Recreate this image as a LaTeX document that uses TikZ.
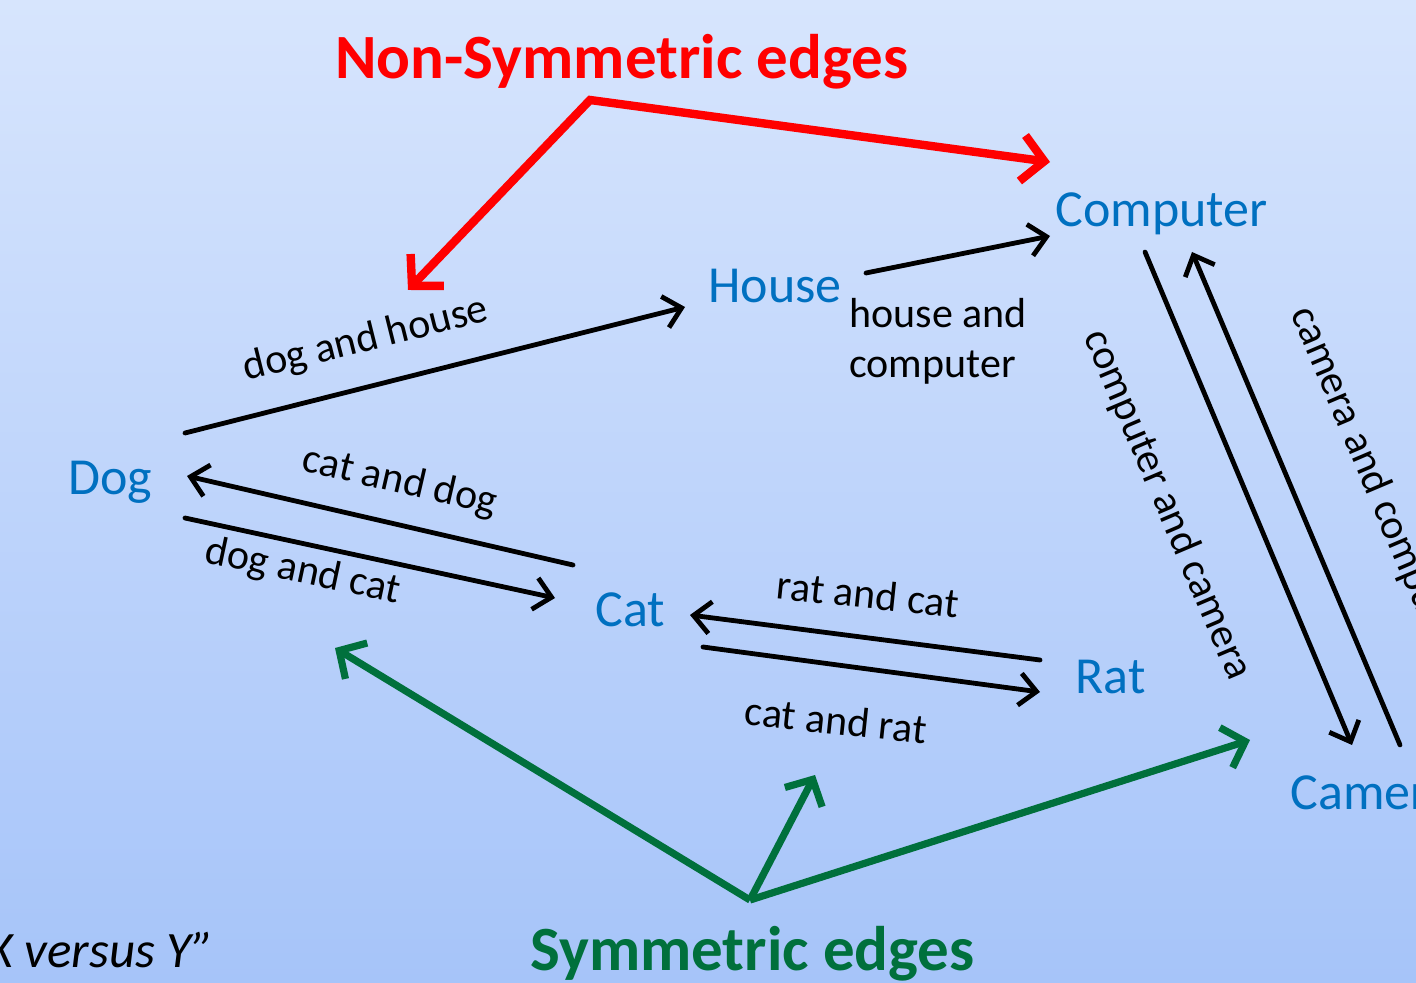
\documentclass[tikz,border=0pt]{standalone}
\usepackage{fontspec}
\setmainfont{Carlito}
\usetikzlibrary{arrows.meta,positioning}
\definecolor{slideblue}{HTML}{0070C0}
\definecolor{slidered}{HTML}{FF0000}
\definecolor{slidegreen}{HTML}{00703C}
\definecolor{bgtop}{HTML}{D7E5FD}
\definecolor{bgbot}{HTML}{A6C4F9}
\tikzset{
  % ord och kanter
  wn/.style={text=slideblue,inner sep=0pt,anchor=base west,
             font=\fontsize{26}{30}\selectfont},
  wl/.style={text=black,inner sep=0pt,font=\fontsize{21}{25}\selectfont},
  we/.style={-{Straight Barb[length=8.5pt,width=16pt]},draw=black,
             line width=2.4pt,line cap=round},
  % rubriker
  hd/.style={inner sep=0pt,anchor=base west,font=\fontsize{31.5}{36}\selectfont\bfseries},
  nsym/.style={{Straight Barb[length=11pt,width=23pt]}-{Straight Barb[length=11pt,width=23pt]},
               draw=slidered,line width=4.2pt},
  sym/.style={-{Straight Barb[length=10pt,width=21pt]},draw=slidegreen,line width=3.6pt},
}
\begin{document}
\begin{tikzpicture}[x=0.5pt,y=-0.5pt]
\useasboundingbox (0,0) rectangle (1416,983);
\clip (0,0) rectangle (1416,983);
\shade[top color=bgtop,bottom color=bgbot] (0,0) rectangle (1416,983);
  % ord
  \node[wn] (dog) at (68,494) {Dog};
  \node[wn] (house) at (708,303) {House};
  \node[wn] (computer) at (1055,227) {Computer};
  \node[wn] (cat) at (595,626) {Cat};
  \node[wn] (rat) at (1075,693) {Rat};
  \node[wn] (camera) at (1290,809) {Camera};
  \node[hd,text=slidered] (nsymhd) at (335,79) {Non-Symmetric edges};
  \node[hd,text=slidegreen] (symhd) at (530,970) {Symmetric edges};
  \node[inner sep=0pt,anchor=base east,font=\fontsize{25.5}{30}\selectfont\itshape]
    (xvy) at (214,967) {X versus Y”};
  % kantändar
  \coordinate (dh1) at (185,433);  \coordinate (dh2) at (685,307);
  \coordinate (hc1) at (866,273);  \coordinate (hc2) at (1050,236);
  \coordinate (cd1) at (573,565);  \coordinate (cd2) at (187,476);
  \coordinate (dc1) at (185,518);  \coordinate (dc2) at (555,598);
  \coordinate (rc1) at (1040,660); \coordinate (rc2) at (690,615);
  \coordinate (cr1) at (703,647);  \coordinate (cr2) at (1040,692);
  \coordinate (cm1) at (1145,252); \coordinate (cm2) at (1352,745);
  \coordinate (mc1) at (1400,745); \coordinate (mc2) at (1192,252);
  \draw[we] (dh1) -- (dh2);
  \draw[we] (hc1) -- (hc2);
  \draw[we] (cd1) -- (cd2);
  \draw[we] (dc1) -- (dc2);
  \draw[we] (rc1) -- (rc2);
  \draw[we] (cr1) -- (cr2);
  \draw[we] (cm1) -- (cm2);
  \draw[we] (mc1) -- (mc2);
  \node[wl,rotate=14] (ldh) at (366,340) {dog and house};
  \node[wl,anchor=north west,align=left] (lhc) at (849,298) {house and\\computer};
  \node[wl,rotate=-13] (lcd) at (400,482) {cat and dog};
  \node[wl,rotate=-12] (ldc) at (303,572) {dog and cat};
  \node[wl,rotate=-6] (lrc) at (868,594) {rat and cat};
  \node[wl,rotate=-6] (lcr) at (836,720) {cat and rat};
  \node[wl,rotate=-67] (lcm) at (1167,505) {computer and camera};
  \node[wl,rotate=-67] (lmc) at (1374,482) {camera and computer};
  % pilar
  \coordinate (nsym) at (590,100);
  \coordinate (nsymL) at (408,290);
  \coordinate (nsymR) at (1050,162);
  \draw[nsym] (nsymL) -- (nsym) -- (nsymR);
  \coordinate (sym) at (750,900);
  \coordinate (symA) at (335,648);
  \coordinate (symB) at (815,775);
  \coordinate (symC) at (1250,740);
  \draw[sym] (sym) -- (symA);
  \draw[sym] (sym) -- (symB);
  \draw[sym] (sym) -- (symC);
\end{tikzpicture}
\end{document}
